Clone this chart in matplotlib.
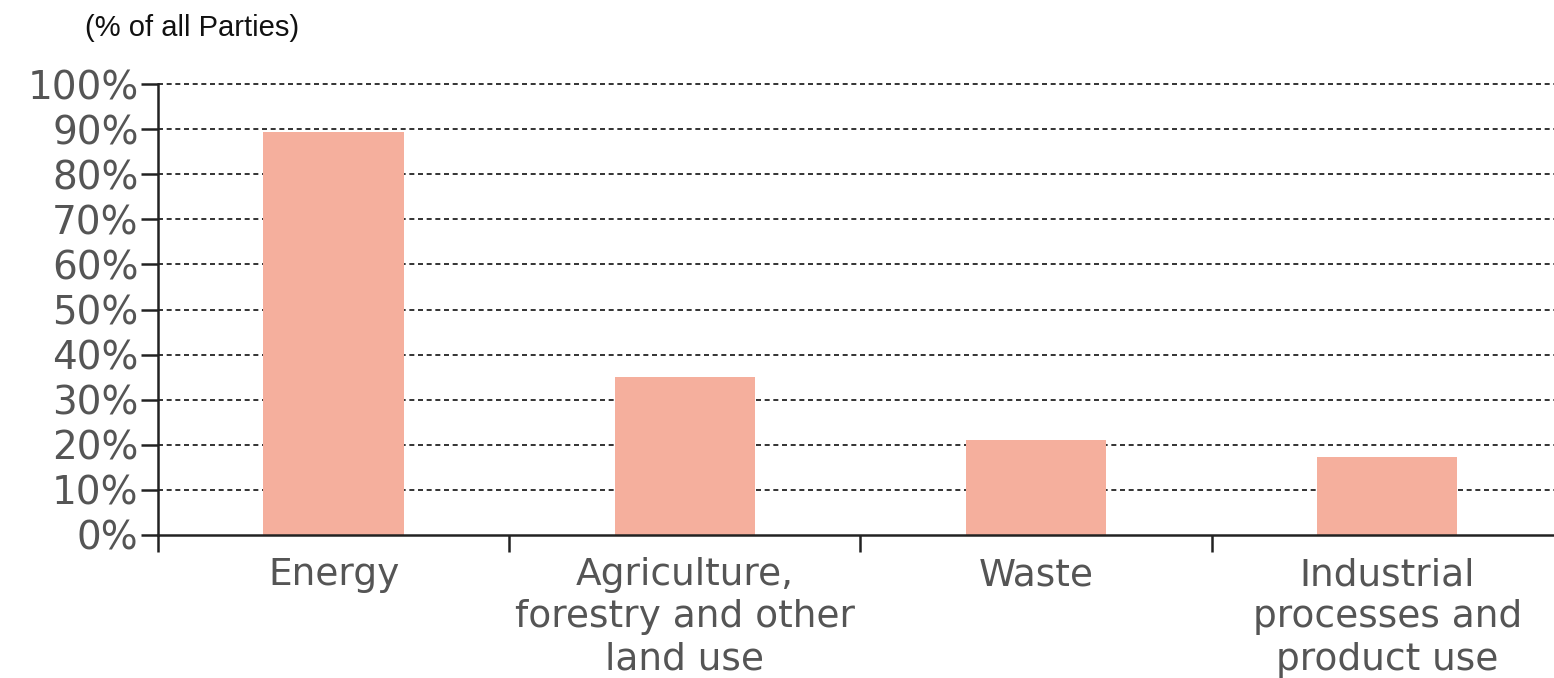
import matplotlib
matplotlib.use("Agg")
import matplotlib.pyplot as plt

categories = ["Energy", "Agriculture,\nforestry and other\nland use", "Waste",
              "Industrial\nprocesses and\nproduct use"]
values = [89.4, 35.0, 21.0, 17.3]
yticks = [0, 10, 20, 30, 40, 50, 60, 70, 80, 90, 100]
ytick_labels = [f"{v}%" for v in yticks]

W, H = 1554, 678
fig = plt.figure(figsize=(W / 100, H / 100), dpi=100)
left = 158 / W
bottom = (H - 535) / H
height = 451 * 1.02 / H
ax = fig.add_axes([left, bottom, 1 - left, height])

x = list(range(len(categories)))
ax.bar(x, values, width=0.4, color="#F5AF9D", zorder=2)

ax.set_xlim(-0.5, 3.475)
ax.set_ylim(0, 102)

for s in ["top", "right"]:
    ax.spines[s].set_visible(False)
ax.spines["left"].set_bounds(0, 100)
for s in ["left", "bottom"]:
    ax.spines[s].set_linewidth(1.8)
    ax.spines[s].set_color("#222222")

label_font = "DejaVu Sans"
ax.set_yticks(yticks)
ax.set_yticklabels(ytick_labels, family=label_font, fontsize=28, color="#555555")
ax.tick_params(axis="y", length=12, width=1.8, color="#222222", direction="out", pad=2)

ax.set_xticks(x)
ax.set_xticklabels(categories, family=label_font, fontsize=27, color="#555555",
                   linespacing=1.22, va="top")
ax.tick_params(axis="x", which="major", length=0, pad=16)
ax.set_xticks([-0.5, 0.5, 1.5, 2.5], minor=True)
ax.tick_params(axis="x", which="minor", length=12, width=1.8, color="#222222", direction="out")

for v in yticks[1:]:
    ax.axhline(v, color="#111111", linewidth=1.2, linestyle=(0, (3, 2.2)), zorder=1)

fig.text(85 / W, 1 - 28 / H, "(% of all Parties)", family="Liberation Sans", fontsize=21,
         color="#111111", va="center", ha="left")

fig.savefig("out.png", dpi=100)
